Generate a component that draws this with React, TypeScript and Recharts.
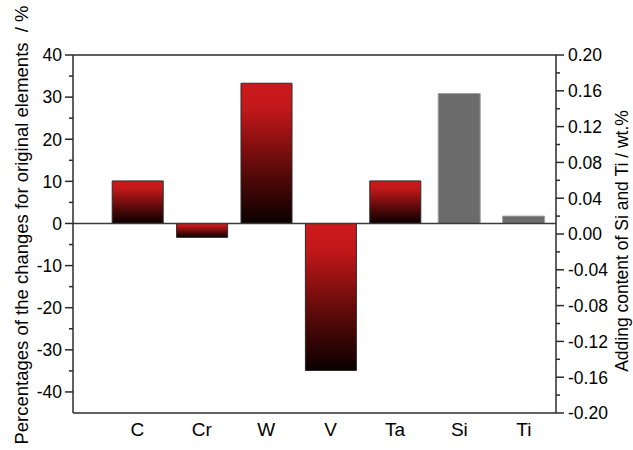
import React from "react";
import { ComposedChart, Bar, XAxis, YAxis, ReferenceLine, Label } from "recharts";

const elements = ["C", "Cr", "W", "V", "Ta", "Si", "Ti"];
// change of the original elements, %
const changePct = [10.1, -3.3, 33.3, -34.9, 10.1, null, null];
// added Si / Ti, wt.%
const addedWt = [null, null, null, null, null, 0.157, 0.02];

const leftTicks = [-40, -35, -30, -25, -20, -15, -10, -5, 0, 5, 10, 15, 20, 25, 30, 35, 40];
const rightTicks = [
  -0.2, -0.18, -0.16, -0.14, -0.12, -0.1, -0.08, -0.06, -0.04, -0.02, 0,
  0.02, 0.04, 0.06, 0.08, 0.1, 0.12, 0.14, 0.16, 0.18, 0.2,
];
const catTicks = [1, 2, 3, 4, 5, 6, 7];

const LEFT_DOMAIN: [number, number] = [-45, 40];
const RIGHT_DOMAIN: [number, number] = [-0.2, 0.2];

const FONT = "'Liberation Sans', Arial, sans-serif";
const AXIS = "#2b2b2b";

// grey bars start from the left-axis zero line, so find that level on the right scale
const rightBase =
  RIGHT_DOMAIN[1] -
  ((RIGHT_DOMAIN[1] - RIGHT_DOMAIN[0]) * LEFT_DOMAIN[1]) / (LEFT_DOMAIN[1] - LEFT_DOMAIN[0]);

const data = elements.map((name, i) => ({
  pos: i + 1,
  name,
  change: changePct[i],
  content: addedWt[i] == null ? null : [rightBase, addedWt[i]],
}));

function LeftTick({ x, y, payload }: any) {
  const major = payload.value % 10 === 0;
  return (
    <g>
      <line x1={x} x2={x - (major ? 8 : 4)} y1={y} y2={y} stroke={AXIS} strokeWidth={1.5} />
      {major && (
        <text x={x - 11} y={y} dy="0.36em" textAnchor="end" fontSize={17.5} fontFamily={FONT} fill="#000">
          {payload.value}
        </text>
      )}
    </g>
  );
}

function RightTick({ x, y, payload }: any) {
  const major = Math.round(payload.value * 100) % 4 === 0;
  return (
    <g>
      <line x1={x} x2={x + (major ? 8 : 4)} y1={y} y2={y} stroke={AXIS} strokeWidth={1.5} />
      {major && (
        <text x={x + 12} y={y} dy="0.36em" textAnchor="start" fontSize={17.5} fontFamily={FONT} fill="#000">
          {payload.value.toFixed(2)}
        </text>
      )}
    </g>
  );
}

function SideTitle({ viewBox, text, dx, dy, size }: any) {
  const cx = viewBox.x + dx;
  const cy = viewBox.y + viewBox.height / 2 + dy;
  return (
    <text
      transform={`translate(${cx}, ${cy}) rotate(-90)`}
      textAnchor="middle"
      dominantBaseline="central"
      fontSize={size}
      fontFamily={FONT}
      fill="#000"
      xmlSpace="preserve"
      style={{ whiteSpace: "pre" }}
    >
      {text}
    </text>
  );
}

export default function App() {
  return (
    <div style={{ position: "absolute", left: 0, top: 0, background: "#fff" }}>
      <ComposedChart width={633} height={450} data={data} margin={{ top: 55, right: 0, bottom: 0, left: 0 }}>
        <defs>
          <linearGradient id="redFade" x1="0" y1="0" x2="0" y2="1">
            <stop offset="0%" stopColor="#cd1a1c" />
            <stop offset="18%" stopColor="#c2181a" />
            <stop offset="60%" stopColor="#600a0a" />
            <stop offset="100%" stopColor="#0a0000" />
          </linearGradient>
        </defs>
        <XAxis
          xAxisId="el"
          type="number"
          dataKey="pos"
          domain={[0, 7.5]}
          ticks={catTicks}
          interval={0}
          tickFormatter={(v: number) => elements[v - 1]}
          height={37}
          tickSize={0}
          tickMargin={10}
          stroke={AXIS}
          strokeWidth={1.5}
          tick={{ fill: "#000", fontSize: 19, fontFamily: FONT }}
        />
        <XAxis xAxisId="si" type="number" dataKey="pos" domain={[0, 7.5]} hide />
        <YAxis
          yAxisId="left"
          orientation="left"
          domain={LEFT_DOMAIN}
          ticks={leftTicks}
          interval={0}
          width={73}
          tickSize={0}
          tickMargin={0}
          tickLine={false}
          stroke={AXIS}
          strokeWidth={1.5}
          tick={<LeftTick />}
        >
          <Label
            content={(p: any) => (
              <SideTitle
                viewBox={p.viewBox}
                text="Percentages of the changes for original elements  / %"
                dx={21}
                dy={-9}
                size={18.5}
              />
            )}
          />
        </YAxis>
        <YAxis
          yAxisId="right"
          orientation="right"
          domain={RIGHT_DOMAIN}
          ticks={rightTicks}
          interval={0}
          width={77}
          tickSize={0}
          tickMargin={0}
          tickLine={false}
          stroke={AXIS}
          strokeWidth={1.5}
          tick={<RightTick />}
        >
          <Label
            content={(p: any) => (
              <SideTitle
                viewBox={p.viewBox}
                text="Adding content of Si and Ti / wt.%"
                dx={66}
                dy={7}
                size={17.5}
              />
            )}
          />
        </YAxis>
        <Bar
          xAxisId="el"
          yAxisId="left"
          dataKey="change"
          barSize={51}
          fill="url(#redFade)"
          stroke="#2a2a2a"
          strokeWidth={1}
          isAnimationActive={false}
        />
        <Bar
          xAxisId="si"
          yAxisId="right"
          dataKey="content"
          barSize={42}
          fill="#6b6b6b"
          stroke="#a0a0a0"
          strokeWidth={1}
          isAnimationActive={false}
        />
        <ReferenceLine xAxisId="el" yAxisId="left" y={0} stroke="#3a3a3a" strokeWidth={1.5} />
        <ReferenceLine xAxisId="el" yAxisId="left" y={40} stroke={AXIS} strokeWidth={1.5} />
      </ComposedChart>
    </div>
  );
}
